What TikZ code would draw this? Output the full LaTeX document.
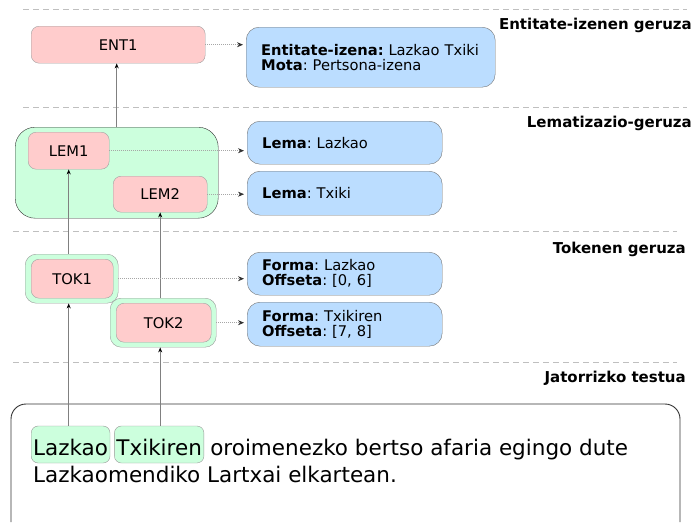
\documentclass[tikz,border=0pt]{standalone}
\usepackage{fontspec}
\setmainfont{DejaVu Sans}
\usepackage{tikz}
\usetikzlibrary{arrows.meta,positioning,calc}
\tikzset{>=Stealth}
\frenchspacing

\begin{document}
\begin{tikzpicture}[x=1pt, y=-1pt,
  every node/.style={font=\fontsize{14.7}{15}\selectfont, inner sep=0pt},
  ent/.style={draw=gray!75, fill=arrosa, rounded corners=8pt, anchor=north west},
  multzo/.style={draw=black!80, fill=berdea, anchor=north west},
  info/.style={draw=gray!90!black, fill=urdina, rounded corners=13pt, anchor=north west,
    align=left, inner xsep=15pt, text width=165pt},
  capa/.style={font=\fontsize{15}{16}\selectfont\bfseries, anchor=base east},
  hitza/.style={draw=gray!80, fill=berdea, rounded corners=7pt, inner xsep=2pt, inner ysep=3pt,
    text height=26pt, text depth=5pt, font=\fontsize{21.5}{27}\selectfont},
  testua/.style={font=\fontsize{21.5}{27}\selectfont},
  lotura/.style={draw=gray, line width=0.8pt, -{Stealth[length=5pt,width=4pt,color=black]}},
  puntu/.style={draw=gray!70, line width=0.6pt, dash pattern=on 1pt off 1pt,
    -{Stealth[length=6pt,width=5pt,color=black!80]}, shorten >=3pt}]
\definecolor{arrosa}{HTML}{FFCCCC}
\definecolor{berdea}{HTML}{CCFFDD}
\definecolor{urdina}{HTML}{BBDDFF}
\useasboundingbox (0,0) rectangle (693,522);

% Geruzen arteko marrak
\foreach \a/\b/\y in {23/687/9.5, 23/687/107, 13/677/231, 13/677/362} {\draw[gray!50, dash pattern=on 6pt off 4pt] (\a,\y) -- (\b,\y);}

% Geruzen izenak
\foreach \x/\y/\t [count=\i] in {692/29/Entitate-izenen geruza, 692/127/Lematizazio-geruza,
  686/253/Tokenen geruza, 686/382/Jatorrizko testua} {
  \node[capa] (capa\i) at (\x,\y) {\t};
}

% Entitateak
\node[ent, minimum width=174pt, minimum height=37pt] (ent1) at (31,26) {ENT1};
\node[info, text width=219pt, minimum height=60pt] (entinfo) at (246,27)
  {\mbox{\textbf{Entitate-izena:} Lazkao Txiki}\\\textbf{Mota}: Pertsona-izena};

% Lemak
\node[multzo, rounded corners=20pt, minimum width=203pt, minimum height=91pt] (lemak) at (15,127) {};
\node[ent, minimum width=81pt, minimum height=37pt] (lem1) at (28,132) {LEM1};
\node[ent, minimum width=94pt, minimum height=36pt] (lem2) at (113,176) {LEM2};
\node[info, minimum height=43pt] (lema1) at (247,121) {\textbf{Lema}: Lazkao};
\node[info, minimum height=44pt] (lema2) at (247,171) {\textbf{Lema}: Txiki};

% Tokenak
\node[multzo, draw=gray!80, rounded corners=11pt, minimum width=93pt, minimum height=49pt] (tok1k) at (25,254) {};
\node[ent, minimum width=82pt, minimum height=39pt] (tok1) at (31,259) {TOK1};
\node[multzo, draw=gray!80, rounded corners=11pt, minimum width=106pt, minimum height=49pt] (tok2k) at (110,298) {};
\node[ent, minimum width=95pt, minimum height=39pt] (tok2) at (116,303) {TOK2};
\node[info, minimum height=43pt] (forma1) at (247,252) {\textbf{Forma}: Lazkao\\\textbf{Offseta}: [0, 6]};
\node[info, minimum height=44pt] (forma2) at (247,302) {\textbf{Forma}: Txikiren\\\textbf{Offseta}: [7, 8]};

% Jatorrizko testua
\draw[black!80, line width=0.9pt, rounded corners=15pt] (11,522) -- (11,404) -- (680,404) -- (680,522);
\node[hitza, anchor=base west] (hitz1) at (31,455) {Lazkao};
\node[hitza, base right=4pt of hitz1] (hitz2) {Txikiren};
\node[testua, base right=6pt of hitz2] (hitz3) {oroimenezko bertso afaria egingo dute};
\node[testua, anchor=base west] (hitz4) at (33,482) {Lazkaomendiko Lartxai elkartean.};

% Loturak
\draw[lotura] (hitz1.north -| lem1) -- (tok1k.south -| lem1);
\draw[lotura] (tok1k.north -| lem1) -- (lem1.south);
\draw[lotura] (hitz2.north -| lem2) -- (tok2k.south -| lem2);
\draw[lotura] (tok2k.north -| lem2) -- (lem2.south);
\draw[lotura] (lemak.north) -- (lemak.north |- ent1.south);

% Informazioa
\draw[puntu] (ent1.east) -- (ent1.east -| entinfo.west);
\draw[puntu] (lem1.east) -- (lem1.east -| lema1.west);
\draw[puntu] (lem2.east) -- (lem2.east -| lema2.west);
\draw[puntu] (tok1k.east) -- (tok1k.east -| forma1.west);
\draw[puntu] (tok2k.east) -- (tok2k.east -| forma2.west);

\end{tikzpicture}
\end{document}
